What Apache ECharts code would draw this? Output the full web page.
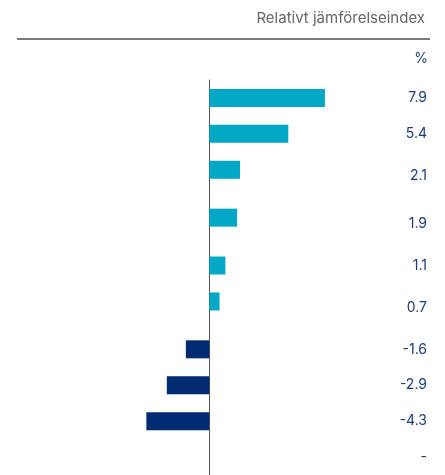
<!DOCTYPE html>
<html><head><meta charset="utf-8">
<script src="https://cdn.jsdelivr.net/npm/echarts@6/dist/echarts.min.js"></script>
<style>html,body{margin:0;padding:0;background:#fff}#c{width:445px;height:475px}</style>
</head><body><div id="c"></div>
<script>
const values = [7.9, 5.4, 2.1, 1.9, 1.1, 0.7, -1.6, -2.9, -4.3, null];
const valueLabels = ['7.9', '5.4', '2.1', '1.9', '1.1', '0.7', '-1.6', '-2.9', '-4.3', '-'];
const titleText = 'Relativt jämförelseindex';
const unitText = '%';

// layout: category slot for each bar row (uneven row spacing of the original)
const rowSlots = [1, 4, 7, 11, 15, 18, 22, 25, 28, 31];
const slotCount = 33;
// layout: finer slots for the right-hand value labels
const labelSlots = [3, 9, 16, 24, 31, 38, 45, 51, 57, 63];
const labelSlotCount = 67;

const POS = '#00a8c6', NEG = '#002b73', LABEL = '#1d3a78';
const categories = Array.from({length: slotCount}, (_, i) => 's' + i);
const labelCats = Array.from({length: labelSlotCount}, (_, i) => 'l' + i);
const slotLabel = {};
labelSlots.forEach((s, i) => { slotLabel[s] = valueLabels[i]; });
const seriesData = categories.map(() => null);
rowSlots.forEach((s, i) => {
  if (values[i] !== null) {
    seriesData[s] = {value: values[i], itemStyle: {color: values[i] >= 0 ? POS : NEG}};
  }
});

const chart = echarts.init(document.getElementById('c'), null, {renderer: 'canvas'});
chart.setOption({
  animation: false,
  textStyle: {fontFamily: 'Inter'},
  title: {text: titleText, right: 15, top: 6,
    textStyle: {fontFamily: 'Inter', fontSize: 15, fontWeight: 'normal', color: '#666'}},
  graphic: [
    {type: 'line', shape: {x1: 17, y1: 39, x2: 430, y2: 39}, style: {stroke: '#7a7a7a', lineWidth: 2}},
    {type: 'text', right: 17, top: 52, style: {text: unitText, fill: LABEL, font: '14px Inter'}}
  ],
  grid: {left: 19, right: 104, top: 80, bottom: 0},
  xAxis: {type: 'value', min: -13, max: 9, show: false},
  yAxis: [
    {type: 'category', data: categories, inverse: true,
      axisLine: {show: true, onZero: true, lineStyle: {color: '#555', width: 1}},
      axisTick: {show: false}, axisLabel: {show: false}, splitLine: {show: false}},
    {type: 'category', data: labelCats, inverse: true, position: 'right', boundaryGap: false,
      axisLine: {show: false, onZero: false}, axisTick: {show: false}, splitLine: {show: false},
      axisLabel: {show: true, interval: 0, align: 'right', margin: 86,
        color: LABEL, fontSize: 14, fontFamily: 'Inter',
        formatter: (v, idx) => slotLabel[idx] !== undefined ? slotLabel[idx] : ''}}
  ],
  series: [{type: 'bar', data: seriesData, barWidth: 18, yAxisIndex: 0}]
});
</script></body></html>
